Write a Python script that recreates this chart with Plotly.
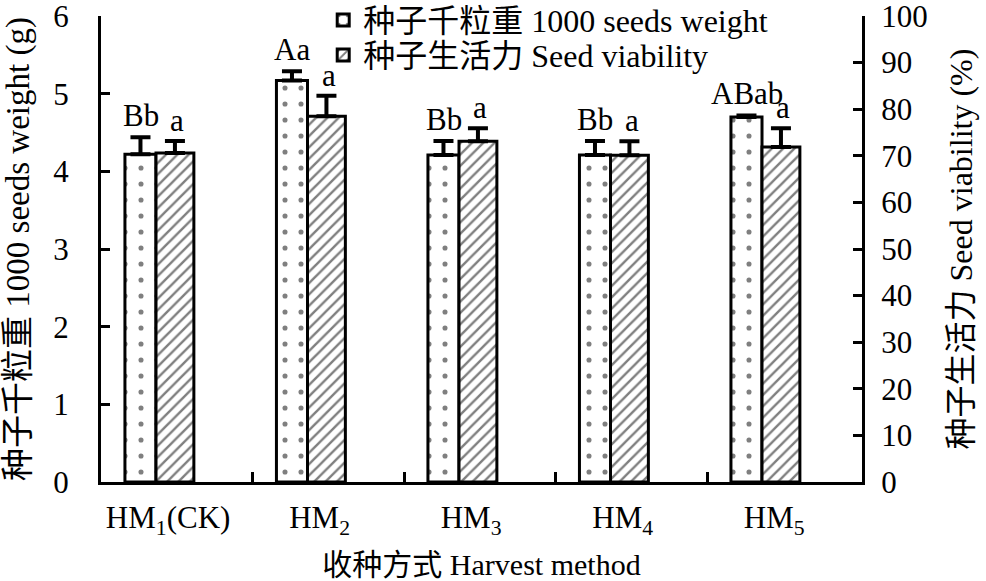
import plotly.graph_objects as go

# data
methods = ['HM<sub>1</sub>(CK)', 'HM<sub>2</sub>', 'HM<sub>3</sub>', 'HM<sub>4</sub>', 'HM<sub>5</sub>']
weight = [4.22, 5.17, 4.21, 4.21, 4.70]          # 1000 seeds weight (g)
weight_err = [0.22, 0.12, 0.18, 0.18, 0.02]
viability = [70.6, 78.5, 73.1, 70.1, 71.9]       # seed viability (%)
viability_err = [2.6, 4.4, 2.8, 3.0, 4.0]
weight_letters = ['Bb', 'Aa', 'Bb', 'Bb', 'ABab']
viability_letters = ['a', 'a', 'a', 'a', 'a']

FONT = 'Liberation Serif, Times New Roman, Noto Sans CJK SC'
pos = list(range(len(methods)))

fig = go.Figure()
fig.add_trace(go.Bar(
    x=pos, y=weight, name='种子千粒重 1000 seeds weight', legend='legend',
    offset=-0.205, width=0.205,
    marker=dict(color='white', line=dict(color='black', width=3),
                pattern=dict(shape='.', fgcolor='black', bgcolor='white', size=16, solidity=0.08)),
    error_y=dict(type='data', symmetric=False, array=weight_err, arrayminus=[0] * 5,
                 color='black', thickness=4, width=10),
))
fig.add_trace(go.Bar(
    x=pos, y=viability, name='种子生活力 Seed viability', yaxis='y2', legend='legend2',
    offset=0, width=0.25,
    marker=dict(color='white', line=dict(color='black', width=3),
                pattern=dict(shape='/', fgcolor='black', bgcolor='white', size=8, solidity=0.3)),
    error_y=dict(type='data', symmetric=False, array=viability_err, arrayminus=[0] * 5,
                 color='black', thickness=4, width=10),
))

# significance letters
for i in pos:
    fig.add_annotation(x=i - 0.1, y=weight[i] + weight_err[i], xref='x', yref='y',
                       text=weight_letters[i], showarrow=False, yanchor='bottom', yshift=2,
                       font=dict(size=31, family=FONT, color='black'))
    fig.add_annotation(x=i + 0.14, y=viability[i] + viability_err[i], xref='x', yref='y2',
                       text=viability_letters[i], showarrow=False, yanchor='bottom', yshift=1,
                       font=dict(size=31, family=FONT, color='black'))

axis_common = dict(showline=True, linecolor='black', linewidth=3, ticks='inside',
                   ticklen=9, tickwidth=3, tickcolor='black', showgrid=False, zeroline=False,
                   ticklabeloverflow='allow',
                   tickfont=dict(size=31, family=FONT, color='black'))
legend_common = dict(xanchor='left', yanchor='middle', bgcolor='rgba(0,0,0,0)',
                     font=dict(size=32, family=FONT), itemwidth=30)

fig.update_layout(
    width=986, height=581,
    margin=dict(l=101, r=124, t=16, b=99, autoexpand=False),
    paper_bgcolor='white', plot_bgcolor='white',
    font=dict(family=FONT, color='black'),
    barmode='overlay',
    showlegend=True,
    legend=dict(x=0.292, y=0.991, **legend_common),
    legend2=dict(x=0.292, y=0.916, **legend_common),
    xaxis=dict(
        range=[-0.363, 4.66], tickmode='array', tickvals=[p + 0.08 for p in pos], ticktext=methods,
        ticks='', showline=True, linecolor='black', linewidth=3, showgrid=False, zeroline=False,
        tickfont=dict(size=31, family=FONT, color='black'), ticklabelstandoff=6,
        minor=dict(tickmode='array', tickvals=[p + 0.64 for p in pos[:-1]], ticks='inside',
                   ticklen=10, tickwidth=3, tickcolor='black', showgrid=False),
        title=dict(text='收种方式 Harvest method', font=dict(size=30, family=FONT), standoff=16),
    ),
    yaxis=dict(range=[0, 6], dtick=1, ticklabelstandoff=23,
               title=dict(text='种子千粒重 1000 seeds weight (g)', font=dict(size=33, family=FONT),
                          standoff=16),
               **axis_common),
    yaxis2=dict(range=[0, 100], dtick=10, overlaying='y', side='right', ticklabelstandoff=10,
                title=dict(text='种子生活力 Seed viability (%)', font=dict(size=32, family=FONT),
                           standoff=23),
                **axis_common),
)

# drop the default 8px body margin so the figure fills the window
fig.write_html('out.html', config={'displayModeBar': False},
               post_script="document.body.style.margin='0';")
